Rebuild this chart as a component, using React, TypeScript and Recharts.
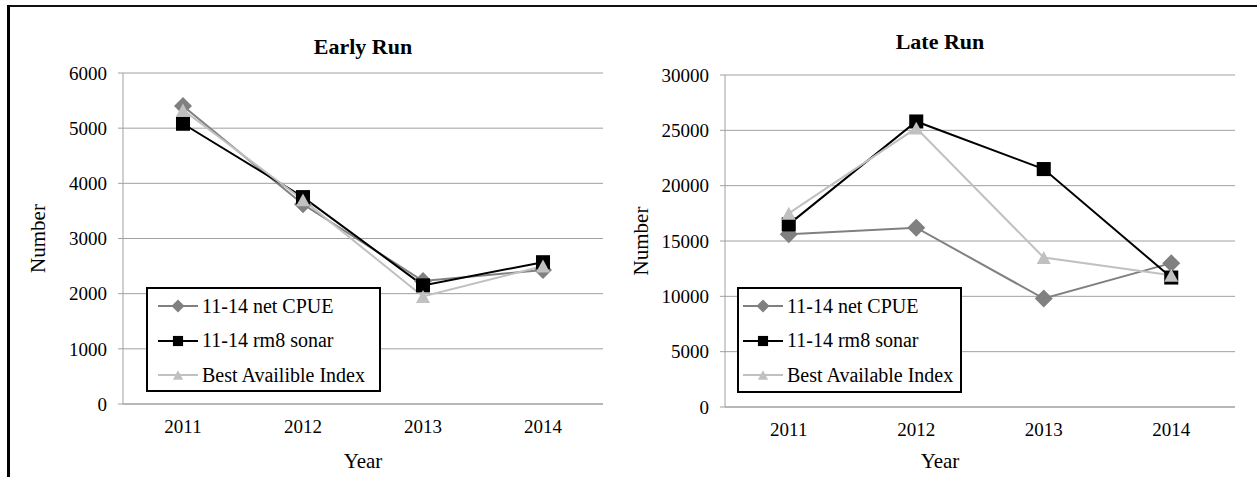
import React from "react";
import {
  LineChart,
  Line,
  XAxis,
  YAxis,
  CartesianGrid,
  Legend,
} from "recharts";

const years = [2011, 2012, 2013, 2014];
const yearBounds = [2010.5, 2011.5, 2012.5, 2013.5, 2014.5];

const earlyCpue = [5400, 3620, 2230, 2430];
const earlySonar = [5080, 3750, 2150, 2570];
const earlyBest = [5330, 3700, 1950, 2500];
const earlyTicks = [0, 1000, 2000, 3000, 4000, 5000, 6000];

const lateCpue = [15600, 16200, 9800, 13000];
const lateSonar = [16500, 25800, 21500, 11700];
const lateBest = [17500, 25200, 13500, 11900];
const lateTicks = [0, 5000, 10000, 15000, 20000, 25000, 30000];

const FONT = "'Liberation Serif', 'Times New Roman', Times, serif";
const GRID = "#a0a0a0";

type Shape = "diamond" | "square" | "triangle";

function Marker({ cx, cy, shape, fill, s }: { cx: number; cy: number; shape: Shape; fill: string; s: number }) {
  if (cx == null || cy == null) return null;
  if (shape === "diamond") {
    const h = s / 2;
    return <polygon points={`${cx},${cy - h} ${cx + h},${cy} ${cx},${cy + h} ${cx - h},${cy}`} fill={fill} />;
  }
  if (shape === "square") {
    const h = (s * 0.78) / 2;
    return <rect x={cx - h} y={cy - h} width={h * 2} height={h * 2} fill={fill} />;
  }
  const w = s * 0.78;
  const ht = s * 0.72;
  return (
    <polygon
      points={`${cx},${cy - ht / 2} ${cx + w / 2},${cy + ht / 2} ${cx - w / 2},${cy + ht / 2}`}
      fill={fill}
    />
  );
}

type Series = { key: string; name: string; color: string; shape: Shape };

function LegendBox({ series, padLeft, width, height }: { series: Series[]; padLeft: number; width: number; height: number }) {
  return (
    <div
      style={{
        width,
        height,
        boxSizing: "border-box",
        border: "2px solid #000",
        background: "#fff",
        paddingLeft: padLeft - 2,
        paddingTop: 0,
        fontFamily: FONT,
      }}
    >
      {series.map((s) => (
        <div key={s.key} style={{ display: "flex", alignItems: "center", height: 34.5 }}>
          <svg width={40} height={20} style={{ flex: "none" }}>
            <line x1={0} y1={10} x2={40} y2={10} stroke={s.color} strokeWidth={2} />
            <Marker cx={20} cy={10} shape={s.shape} fill={s.color} s={13} />
          </svg>
          <span style={{ fontFamily: FONT, fontSize: 20, marginLeft: 4, color: "#000", whiteSpace: "nowrap" }}>
            {s.name}
          </span>
        </div>
      ))}
    </div>
  );
}

type PanelProps = {
  cpue: number[];
  sonar: number[];
  best: number[];
  ticks: number[];
  bestName: string;
  width: number;
  top: number;
  right: number;
  yWidth: number;
  bottomAxis: number;
  labelX: number;
  yearDx: number;
  legend: { left: number; top: number; width: number; height: number; pad: number };
};

function Panel(p: PanelProps) {
  const data = years.map((year, i) => ({
    year,
    cpue: p.cpue[i],
    sonar: p.sonar[i],
    best: p.best[i],
  }));
  const series: Series[] = [
    { key: "cpue", name: "11-14 net CPUE", color: "#808080", shape: "diamond" },
    { key: "sonar", name: "11-14 rm8 sonar", color: "#000000", shape: "square" },
    { key: "best", name: p.bestName, color: "#c0c0c0", shape: "triangle" },
  ];
  const max = p.ticks[p.ticks.length - 1];
  const tickStyle = { fontSize: 19, fill: "#000", fontFamily: FONT };
  return (
    <LineChart
      width={p.width}
      height={477}
      data={data}
      margin={{ top: p.top, right: p.right, bottom: 0, left: 0 }}
      style={{ fontFamily: FONT }}
    >
      <CartesianGrid horizontal vertical={false} stroke={GRID} />
      <XAxis
        xAxisId="bounds"
        dataKey="year"
        type="number"
        domain={[2010.5, 2014.5]}
        ticks={yearBounds}
        tick={false}
        tickSize={6}
        height={1}
        stroke={GRID}
        allowDataOverflow
      />
      <XAxis
        xAxisId="main"
        dataKey="year"
        type="number"
        domain={[2010.5, 2014.5]}
        ticks={years}
        axisLine={false}
        tickLine={false}
        tickSize={6}
        tickMargin={9}
        height={p.bottomAxis}
        tick={tickStyle}
        label={{
          value: "Year",
          position: "insideBottom",
          offset: 9,
          dx: p.yearDx,
          fontSize: 21,
          fill: "#000",
          fontFamily: FONT,
        }}
        allowDataOverflow
      />
      <YAxis
        domain={[0, max]}
        ticks={p.ticks}
        width={p.yWidth}
        stroke={GRID}
        tickSize={5}
        tickMargin={11}
        tick={tickStyle}
        label={{
          value: "Number",
          angle: -90,
          position: "insideLeft",
          offset: p.labelX,
          fontSize: 21,
          fill: "#000",
          fontFamily: FONT,
          style: { textAnchor: "middle" },
        }}
      />
      <Legend
        layout="vertical"
        align="center"
        verticalAlign="middle"
        wrapperStyle={{ left: p.legend.left, top: p.legend.top, width: p.legend.width, height: p.legend.height }}
        content={() => (
          <LegendBox series={series} padLeft={p.legend.pad} width={p.legend.width} height={p.legend.height} />
        )}
      />
      {series.map((s) => (
        <Line
          key={s.key}
          xAxisId="main"
          dataKey={s.key}
          name={s.name}
          stroke={s.color}
          strokeWidth={2}
          isAnimationActive={false}
          dot={(d: any) => (
            <Marker key={`${s.key}-${d.index}`} cx={d.cx} cy={d.cy} shape={s.shape} fill={s.color} s={18} />
          )}
          activeDot={false}
        />
      ))}
    </LineChart>
  );
}

const titleStyle: React.CSSProperties = {
  position: "absolute",
  width: 200,
  textAlign: "center",
  fontSize: 22,
  fontWeight: "bold",
  lineHeight: "24px",
  fontFamily: FONT,
};

export default function App() {
  return (
    <div
      style={{
        position: "absolute",
        left: 0,
        top: 0,
        width: 1257,
        height: 477,
        background: "#fff",
        overflow: "hidden",
        fontFamily: FONT,
      }}
    >
      <style>{`#root, #root * { font-family: ${FONT}; }`}</style>
      <div style={{ position: "absolute", left: 0, top: 0 }}>
        <Panel
          cpue={earlyCpue}
          sonar={earlySonar}
          best={earlyBest}
          ticks={earlyTicks}
          bestName="Best Availible Index"
          width={630}
          top={73}
          right={27}
          yWidth={123}
          bottomAxis={72}
          labelX={38}
          yearDx={0}
          legend={{ left: 146, top: 287, width: 235, height: 105, pad: 12 }}
        />
      </div>
      <div style={{ position: "absolute", left: 627, top: 0 }}>
        <Panel
          cpue={lateCpue}
          sonar={lateSonar}
          best={lateBest}
          ticks={lateTicks}
          bestName="Best Available Index"
          width={630}
          top={75}
          right={22}
          yWidth={98}
          bottomAxis={69}
          labelX={14}
          yearDx={-40}
          legend={{ left: 110, top: 287, width: 225, height: 106, pad: 6 }}
        />
      </div>
      <div style={{ ...titleStyle, left: 263, top: 35 }}>Early Run</div>
      <div style={{ ...titleStyle, left: 840, top: 30 }}>Late Run</div>
      <div style={{ position: "absolute", left: 7, top: 5, width: 1250, height: 2, background: "#111" }} />
      <div style={{ position: "absolute", left: 7, top: 5, width: 3, height: 472, background: "#000" }} />
    </div>
  );
}
